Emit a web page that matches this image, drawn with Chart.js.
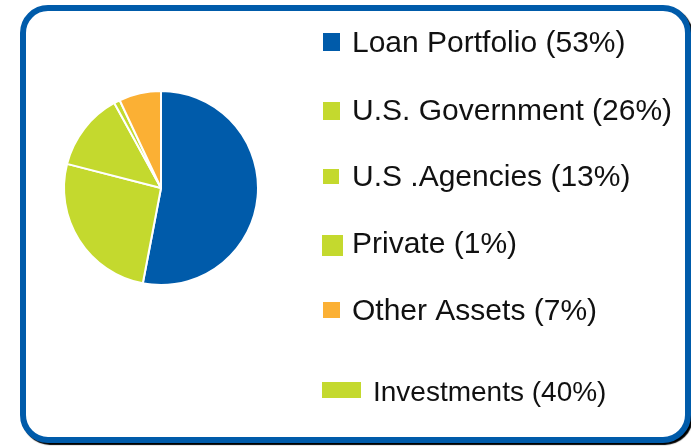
<!DOCTYPE html>
<html>
<head>
<meta charset="utf-8">
<script src="https://cdn.jsdelivr.net/npm/chart.js@4/dist/chart.umd.min.js"></script>
<style>
    html, body { margin: 0; padding: 0; background: #fff; }
    .frame {
        position: absolute;
        left: 20px; top: 5px;
        width: 659px; height: 426px;
        border: 6px solid #005BAA;
        border-radius: 28px;
        box-shadow: 2px 2px 1px #000;
        background: #fff;
    }
    .wrap { position: absolute; left: 0; top: 0; width: 691px; height: 446px; }
</style>
</head>
<body>
<div class="frame"></div>
<div class="wrap"><canvas id="assetChart" width="691" height="446"></canvas></div>
<script>
const categories = ['Loan Portfolio', 'U.S. Government', 'U.S .Agencies', 'Private', 'Other Assets'];
const values = [53, 26, 13, 1, 7];
const sliceColors = ['#005BAA', '#C4D92E', '#C4D92E', '#C4D92E', '#FBB034'];
const summaryLabel = 'Investments';
const summaryValue = 40;
const summaryColor = '#C4D92E';

// legend placement (box x, box y, box w, box h, text x, text baseline, font size)
const legendLayout = [
    [323, 33, 17, 18, 352, 52, 30],
    [323, 102, 17, 18, 352, 120, 30],
    [323, 169, 16, 15, 352, 186, 30],
    [322, 235, 21, 21, 352, 253, 30],
    [323, 302, 17, 16, 352, 320, 30],
    [322, 382, 39, 16, 373, 401, 28]
];

const legendPlugin = {
    id: 'sideLegend',
    afterDraw(chart) {
        const ctx = chart.ctx;
        const names = categories.concat([summaryLabel]);
        const nums = values.concat([summaryValue]);
        const colors = sliceColors.concat([summaryColor]);
        ctx.save();
        names.forEach((name, i) => {
            const [bx, by, bw, bh, tx, ty, fs] = legendLayout[i];
            ctx.fillStyle = colors[i];
            ctx.fillRect(bx, by, bw, bh);
            ctx.fillStyle = '#111';
            ctx.font = fs + 'px "Liberation Sans", Arial, sans-serif';
            ctx.textBaseline = 'alphabetic';
            ctx.fillText(name + ' (' + nums[i] + '%)', tx, ty);
        });
        ctx.restore();
    }
};

new Chart(document.getElementById('assetChart'), {
    type: 'pie',
    data: {
        labels: categories,
        datasets: [{
            data: values,
            backgroundColor: sliceColors,
            borderColor: '#ffffff',
            borderWidth: 2
        }]
    },
    options: {
        responsive: false,
        animation: false,
        radius: 97,
        layout: {
            padding: { left: 64, right: 433, top: 91, bottom: 161 }
        },
        plugins: {
            legend: { display: false },
            tooltip: { enabled: false }
        }
    },
    plugins: [legendPlugin]
});
</script>
</body>
</html>
